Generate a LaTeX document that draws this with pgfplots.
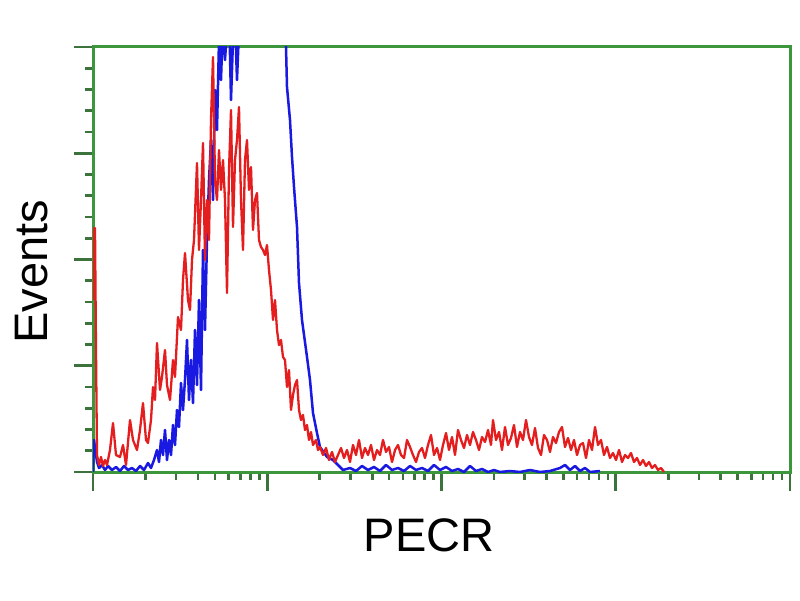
\documentclass[border=0pt]{standalone}
\usepackage{pgfplots}
\pgfplotsset{compat=1.18}
\usepackage{fontspec}
\setmainfont{Liberation Sans}

\definecolor{frame}{RGB}{60,150,60}
\definecolor{tickc}{RGB}{60,115,60}
\definecolor{redc}{RGB}{228,30,30}
\definecolor{bluec}{RGB}{25,25,225}

% histogram data: x = channel (4 log decades over 697 channels), y = events
\pgfplotstableread{
x y
0 172
1 244
2 244
3 122
4 17
6 7
8 15
10 6
12 12
14 7
17 22
20 49
23 17
27 15
30 27
33 7
37 52
40 32
44 22
47 42
50 69
53 32
55 29
58 52
60 85
62 72
64 129
67 82
69 95
72 122
74 87
77 72
80 112
82 95
85 155
88 142
90 192
92 219
95 172
97 162
99 212
101 232
104 309
106 222
108 272
110 329
112 212
114 272
116 232
118 352
120 415
122 292
124 272
126 322
128 282
130 312
132 272
134 179
136 302
138 362
140 245
142 312
144 332
146 365
148 272
150 222
152 312
154 332
156 282
158 305
160 242
162 272
164 279
166 232
168 225
170 222
172 217
174 227
176 202
178 182
180 152
182 172
184 142
186 127
188 132
190 115
192 112
194 85
196 102
198 62
200 77
202 87
204 92
206 62
208 52
210 57
212 42
214 47
216 32
218 40
220 27
223 32
225 22
227 25
230 17
233 24
236 12
239 20
242 10
245 17
248 24
251 14
254 22
257 10
260 27
263 17
266 32
269 14
272 24
275 17
278 27
281 12
284 22
287 17
290 32
293 20
296 25
299 10
302 22
305 27
308 17
311 14
314 32
317 25
320 17
323 10
326 20
329 24
332 14
335 27
338 37
341 17
344 24
347 12
350 27
353 39
356 22
359 35
362 17
365 42
368 32
371 24
374 37
377 27
380 40
383 32
386 22
389 35
392 30
395 42
398 27
400 52
403 32
406 40
409 22
412 45
415 27
418 34
421 47
424 25
427 40
430 32
433 52
436 35
439 27
442 44
445 24
448 17
451 37
454 32
457 20
460 35
463 29
466 40
469 45
472 25
475 34
478 22
481 32
484 17
487 27
490 29
493 14
496 32
499 22
502 45
505 27
508 32
511 17
514 25
517 14
520 19
523 12
526 22
529 10
532 17
535 14
538 19
541 10
544 14
547 7
550 12
553 6
556 10
559 4
562 7
565 2
568 4
571 0
}\redtable

\pgfplotstableread{
x y
0 0
1 32
2 25
4 10
6 4
9 7
12 2
15 6
19 2
23 5
27 1
31 6
35 2
39 4
43 1
47 6
51 2
55 9
58 4
61 12
64 22
66 10
68 32
70 17
72 42
74 12
76 32
78 17
80 47
82 27
84 62
86 45
88 89
90 62
92 92
94 132
96 72
98 112
100 69
102 142
104 87
106 172
108 82
110 222
112 142
114 232
116 292
118 332
120 272
122 382
124 342
126 432
128 392
130 452
132 412
134 442
136 462
138 372
140 432
142 452
144 392
146 442
148 492
167 512
191 492
193 425
194 385
197 352
199 315
201 285
204 245
206 189
209 152
214 115
217 92
220 59
224 39
227 25
234 15
240 12
245 7
250 2
257 4
263 1
269 6
275 2
281 5
287 1
293 7
299 2
305 4
311 1
317 6
323 2
329 4
335 1
341 7
347 2
353 5
359 1
365 3
371 0
377 6
383 1
389 3
395 0
401 2
407 0
417 1
427 0
437 2
447 0
457 1
467 4
472 7
477 2
482 6
487 1
492 4
497 0
507 1
}\bluetable

\begin{document}
\begin{tikzpicture}
\useasboundingbox (0,0) rectangle (800pt,600pt);
\begin{axis}[
    at={(93pt,128pt)}, anchor=south west,
    scale only axis,
    width=697pt, height=425pt,
    xmin=0, xmax=697, ymin=0, ymax=425,
    axis line style={frame, line width=3pt},
    tick pos=left,
    tick align=outside,
    xtick={0,174.25,348.5,522.75,697},
    minor xtick={52.5,83.1,104.9,121.8,135.6,147.3,157.4,166.3,
        226.7,257.4,279.2,296.1,309.8,321.6,331.6,340.6,
        401.0,431.6,453.4,470.3,484.1,495.8,505.9,514.8,
        575.2,605.8,627.6,644.5,658.3,670.1,680.1,689.1},
    ytick={0,106.25,212.5,318.75,425},
    minor y tick num=4,
    xticklabels={}, yticklabels={},
    major tick length=19pt,
    minor tick length=8pt,
    every tick/.style={tickc, line width=2.6pt},
    clip=true,
]
\addplot[bluec, line width=2.5pt, line join=round] table {\bluetable};
\addplot[redc, line width=2.3pt, line join=round] table {\redtable};
\end{axis}
\node[rotate=90, anchor=base, font=\fontsize{47}{50}\selectfont] at (47pt,328pt) {Events};
\node[anchor=base, font=\fontsize{47}{50}\selectfont] at (429pt,49pt) {PECR};
\end{tikzpicture}
\end{document}
